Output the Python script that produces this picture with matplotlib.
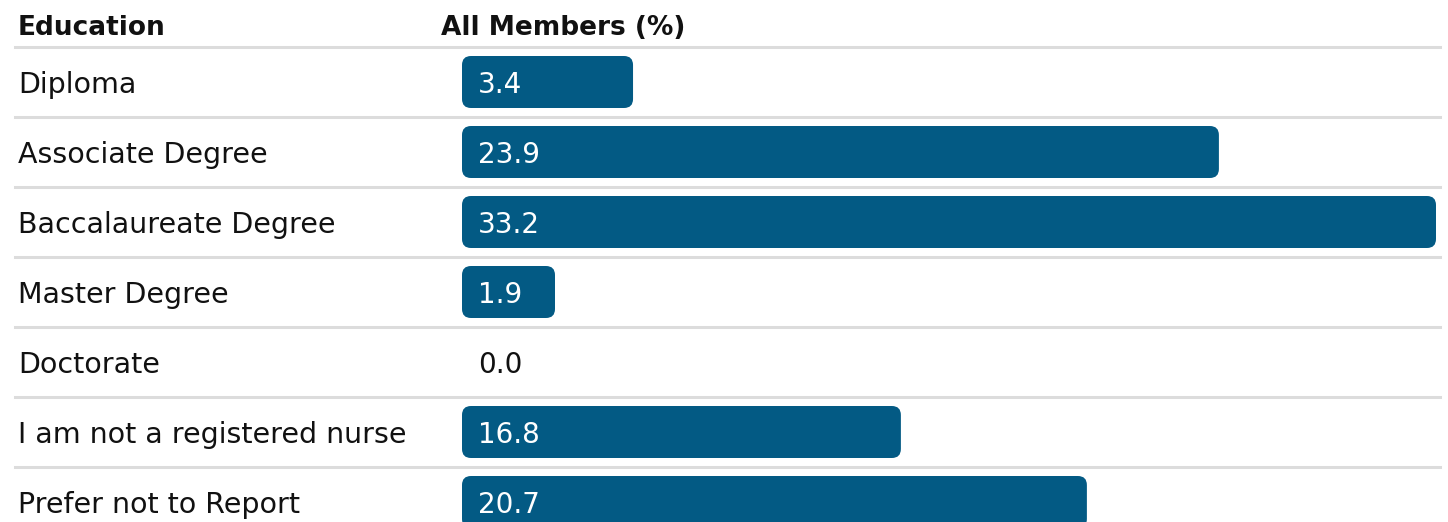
import matplotlib
matplotlib.use("Agg")
import matplotlib.pyplot as plt
from matplotlib.patches import FancyBboxPatch
from matplotlib.transforms import blended_transform_factory

categories = ["Diploma", "Associate Degree", "Baccalaureate Degree", "Master Degree",
              "Doctorate", "I am not a registered nurse", "Prefer not to Report"]
values = [3.4, 23.9, 33.2, 1.9, 0.0, 16.8, 20.7]
# bar lengths as drawn in the reference (not proportional to the labels)
bar_lengths = [5.83, 25.8, 33.2, 3.17, 0.0, 14.96, 21.3]
header = ["Education", "All Members (%)"]

W, H = 1448, 522
BAR_COLOR = "#035a84"
LINE_COLOR = "#dcdcdc"
FONT = "DejaVu Sans"

fig = plt.figure(figsize=(W / 100, H / 100), dpi=100)
x0, x1 = 462, 1436
ax = fig.add_axes([x0 / W, 0, (x1 - x0) / W, 1])
ax.set_xlim(0, max(bar_lengths))
row_px, first_px = 70, 82
ax.set_ylim((H - first_px) / row_px, -first_px / row_px)
ax.axis("off")

px_per_x = (x1 - x0) / max(bar_lengths)
bar_h = 52 / row_px
rad = 9 / px_per_x
aspect = px_per_x / row_px
dy = 3 / row_px  # text sits a little below the row centre

fx = blended_transform_factory(fig.transFigure, ax.transData)

for i, (cat, v, bl) in enumerate(zip(categories, values, bar_lengths)):
    if bl > 0:
        box = FancyBboxPatch((0, i - bar_h / 2), bl, bar_h,
                             boxstyle=f"round,pad=0,rounding_size={rad}",
                             mutation_aspect=aspect, fc=BAR_COLOR, ec="none",
                             clip_on=False)
        ax.add_patch(box)
        tc = "white"
    else:
        tc = "#111111"
    ax.text(16 / px_per_x, i + dy, f"{v:.1f}", color=tc, fontsize=20,
            family=FONT, va="center", ha="left")
    ax.text(18 / W, i + dy, cat, transform=fx, fontsize=20.5, family=FONT,
            va="center", ha="left", color="#111111")

# row separators (header line included)
for i in range(len(categories)):
    ax.plot([15 / W, 1440 / W], [i - 0.5, i - 0.5], transform=fx,
            color=LINE_COLOR, lw=2.2, clip_on=False, zorder=0)

hy = (28 - first_px) / row_px
ax.text(18 / W, hy, header[0], transform=fx, fontsize=19, family=FONT,
        fontweight="bold", va="center", ha="left", color="#111111")
ax.text(441 / W, hy, header[1], transform=fx, fontsize=19, family=FONT,
        fontweight="bold", va="center", ha="left", color="#111111")

fig.savefig("out.png", dpi=100)
